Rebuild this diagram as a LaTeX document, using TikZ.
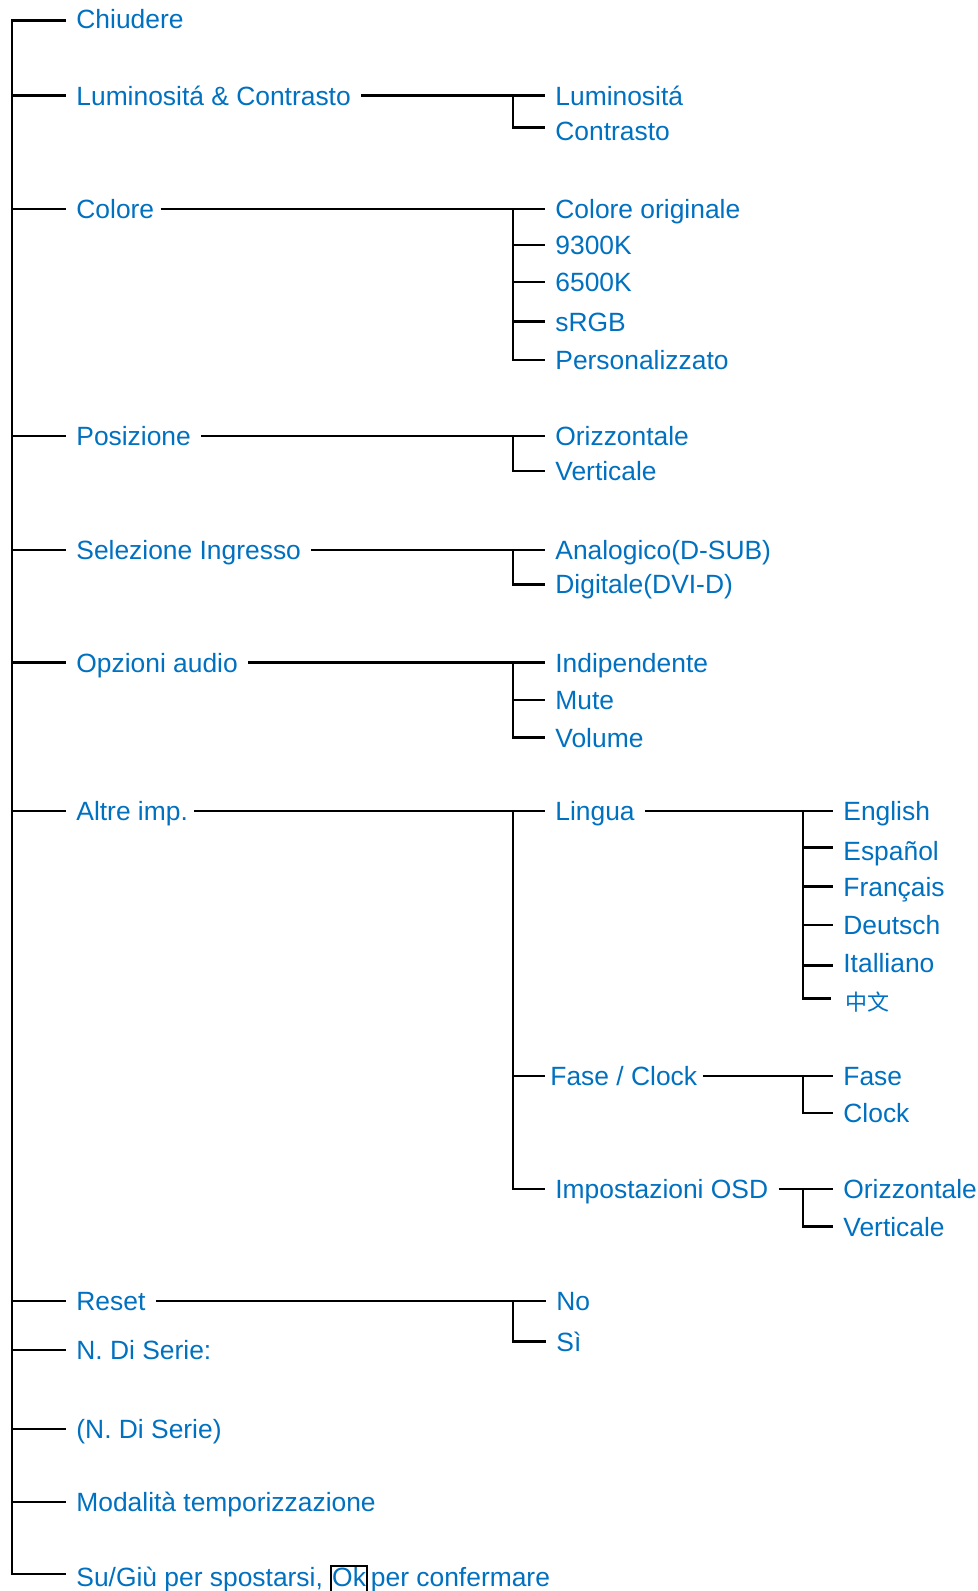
\documentclass[tikz,border=0pt]{standalone}
\usepackage{fontspec}
\setmainfont{Liberation Sans}
\newfontfamily\cjk{Noto Sans CJK SC}
\definecolor{menublue}{HTML}{0070C0}

\begin{document}
\begin{tikzpicture}[x=0.5pt,y=-0.5pt,
    voce/.style={anchor=west, inner xsep=5pt, inner ysep=0pt, text height=10.5pt, text depth=1pt,
        text=menublue, font=\fontsize{13.2}{16}\selectfont},
    ramo/.style={line width=1.3pt, black}]
    \useasboundingbox (0,0) rectangle (978,1591);

    % Colonne dei rami
    \coordinate (c1) at (12,0);
    \coordinate (c2) at (513,0);
    \coordinate (c3) at (803,0);

    % Menu principale
    \node[voce, text height=8.5pt] (chiudere) at (66,20.7) {Chiudere};
    \node[voce] (lumcon) at (66,95.7) {Luminositá \& Contrasto};
    \node[voce] (colore) at (66,209) {Colore};
    \node[voce] (posiz) at (66,436) {Posizione};
    \node[voce] (selez) at (66,550) {Selezione Ingresso};
    \node[voce] (audio) at (66,662.5) {Opzioni audio};
    \node[voce] (altre) at (66,811) {Altre imp.};
    \node[voce] (reset) at (66,1301) {Reset};
    \node[voce] (serie) at (66,1350) {N. Di Serie:};
    \node[voce] (serieval) at (66,1429) {(N. Di Serie)};
    \node[voce] (modalita) at (66,1502) {Modalità temporizzazione};
    \node[voce, text height=13.5pt] (sugiu) at (66,1574) {Su/Giù per spostarsi,
        {\color{black}\fboxsep=0pt\fboxrule=1pt\fbox{\color{menublue}\rule[-6pt]{0pt}{12.9pt}Ok}}\hspace{1.5pt}per confermare};

    % Sottomenu
    \node[voce] (lum) at (545,95.7) {Luminositá};
    \node[voce, text height=14pt] (con) at (545,127.7) {Contrasto};
    \node[voce] (colorig) at (545,209) {Colore originale};
    \node[voce] (k9300) at (545,245) {9300K};
    \node[voce] (k6500) at (545,282) {6500K};
    \node[voce] (srgb) at (545,321.7) {sRGB};
    \node[voce] (pers) at (545,360) {Personalizzato};
    \node[voce] (oriz) at (545,436) {Orizzontale};
    \node[voce] (vert) at (545,471) {Verticale};
    \node[voce] (analog) at (545,550) {Analogico(D-SUB)};
    \node[voce] (digit) at (545,584.3) {Digitale(DVI-D)};
    \node[voce] (indip) at (545,662.5) {Indipendente};
    \node[voce] (mute) at (545,700) {Mute};
    \node[voce] (volume) at (545,737.7) {Volume};
    \node[voce] (lingua) at (545,811) {Lingua};
    \node[voce, inner xsep=2.5pt] (fase) at (545,1076) {Fase / Clock};
    \node[voce] (osd) at (545,1189) {Impostazioni OSD};
    \node[voce] (no) at (546,1301) {No};
    \node[voce] (si) at (546,1341.7) {Sì};

    % Terzo livello
    \node[voce] (english) at (833,811) {English};
    \node[voce, text height=13.5pt] (espanol) at (833,847.7) {Español};
    \node[voce] (francais) at (833,886.7) {Français};
    \node[voce] (deutsch) at (833,925) {Deutsch};
    \node[voce, text height=8pt] (italliano) at (833,965.7) {Italliano};
    \node[voce, text height=13.5pt, font=\cjk\fontsize{11}{13}\selectfont] (cinese) at (835,998.3) {中文};
    \node[voce] (fase2) at (833,1076) {Fase};
    \node[voce] (clock) at (833,1113) {Clock};
    \node[voce] (oriz2) at (833,1189) {Orizzontale};
    \node[voce] (vert2) at (833,1226.7) {Verticale};

    % Tronco principale
    \draw[ramo] (chiudere.west) -- (c1 |- chiudere.west) -- (c1 |- sugiu.west) -- (sugiu.west);
    \foreach \n in {lumcon,colore,posiz,selez,audio,altre,reset,serie,serieval,modalita}
        \draw[ramo] (c1 |- \n.west) -- (\n.west);

    % Luminosita & Contrasto
    \draw[ramo] (lumcon.east) -- (lum.west);
    \draw[ramo] (c2 |- lum.west) |- (con.west);

    % Colore
    \draw[ramo] ([xshift=-2pt]colore.east) -- (colorig.west);
    \draw[ramo] (c2 |- colorig.west) |- (pers.west);
    \foreach \n in {k9300,k6500,srgb}
        \draw[ramo] (c2 |- \n.west) -- (\n.west);

    % Posizione e Ingresso
    \draw[ramo] (posiz.east) -- (oriz.west);
    \draw[ramo] (c2 |- oriz.west) |- (vert.west);
    \draw[ramo] (selez.east) -- (analog.west);
    \draw[ramo] (c2 |- analog.west) |- (digit.west);

    % Audio
    \draw[ramo] (audio.east) -- (indip.west);
    \draw[ramo] (c2 |- indip.west) |- (volume.west);
    \draw[ramo] (c2 |- mute.west) -- (mute.west);

    % Altre imp.
    \draw[ramo] ([xshift=-2pt]altre.east) -- (lingua.west);
    \draw[ramo] (c2 |- lingua.west) |- (osd.west);
    \draw[ramo] (c2 |- fase.west) -- (fase.west);

    % Lingua
    \draw[ramo] (lingua.east) -- (english.west);
    \draw[ramo] (c3 |- english.west) |- ([xshift=-2pt]cinese.west);
    \foreach \n in {espanol,francais,deutsch,italliano}
        \draw[ramo] (c3 |- \n.west) -- (\n.west);

    % Fase / Clock e OSD
    \draw[ramo] (fase.east) -- (fase2.west);
    \draw[ramo] (c3 |- fase2.west) |- (clock.west);
    \draw[ramo] (osd.east) -- (oriz2.west);
    \draw[ramo] (c3 |- oriz2.west) |- (vert2.west);

    % Reset
    \draw[ramo] (reset.east) -- (no.west);
    \draw[ramo] (c2 |- no.west) |- (si.west);
\end{tikzpicture}
\end{document}
